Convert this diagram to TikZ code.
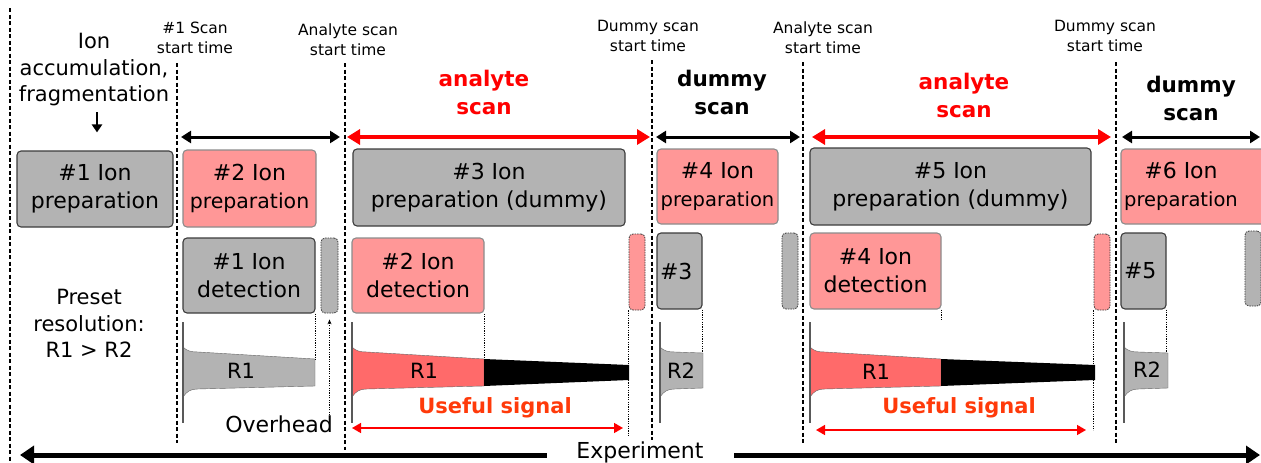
\documentclass[tikz,border=0pt]{standalone}
\usepackage{fontspec}
\setmainfont{DejaVu Sans}
\usepackage{tikz}
\usetikzlibrary{calc,arrows.meta}

\definecolor{boxgray}{RGB}{179,179,179}
\definecolor{boxpink}{RGB}{255,151,151}
\definecolor{sigred}{RGB}{255,106,106}
\definecolor{usered}{RGB}{255,58,10}
\definecolor{edgegray}{RGB}{60,60,60}

\tikzstyle{graybox}=[rectangle,rounded corners=4pt,draw=edgegray,line width=1.1pt,
                     fill=boxgray,inner sep=0pt,align=center,font=\fontsize{22}{28}\selectfont]
\tikzstyle{pinkbox}=[graybox,fill=boxpink,draw=black!45]
\tikzstyle{gapbox}=[rectangle,rounded corners=4pt,draw=edgegray,line width=0.8pt,
                    dash pattern=on 1.5pt off 1pt,inner sep=0pt,minimum width=16pt]
\tikzstyle{timeline}=[line width=2.4pt,dash pattern=on 4pt off 2.5pt]
\tikzstyle{guideline}=[line width=0.9pt,dash pattern=on 1.2pt off 1.2pt]
\tikzstyle{blackspan}=[line width=3pt,{Triangle[length=10pt,width=12pt]}-{Triangle[length=10pt,width=12pt]}]
\tikzstyle{redspan}=[line width=4.5pt,red,{Triangle[length=13pt,width=15pt]}-{Triangle[length=13pt,width=15pt]}]
\tikzstyle{usefulspan}=[line width=1.5pt,red,{Triangle[length=9pt,width=10pt]}-{Triangle[length=9pt,width=10pt]}]
\tikzstyle{marktext}=[align=center,inner sep=0pt,font=\fontsize{15.5}{20}\selectfont]
\tikzstyle{sidetext}=[align=center,inner sep=0pt,font=\fontsize{21}{26.5}\selectfont]
\tikzstyle{headtext}=[align=center,inner sep=0pt,font=\fontsize{21.5}{28}\selectfont\bfseries]
\tikzstyle{sigtext}=[inner sep=0pt,font=\fontsize{21}{26}\selectfont]
\tikzstyle{usefultext}=[inner sep=0pt,text=usered,font=\fontsize{21}{26}\selectfont\bfseries]

\newcommand\boxlabel[3][22]{#2\\{\fontsize{#1}{28}\selectfont #3}}
\newcommand\spanrow{137}
\newcommand\transient[5]{%
  \fill[#3,draw=black!60,line width=0.4pt] (#1,347) .. controls (#1+4,351) and (#1+8,352) .. (#1+15,352)
    -- (#1+#2,#4) -- (#1+#2,#5) -- (#1+15,389) .. controls (#1+8,389) and (#1+4,391) .. (#1,397) -- cycle;
  \draw[line width=2.2pt,black!65] (#1,322) -- (#1,423);}
\newcommand\blacktail[2]{\fill[black] (#1,359) -- (#2,365) -- (#2,380) -- (#1,386) -- cycle;}

\begin{document}
\begin{tikzpicture}[x=1pt,y=-1pt]
    \useasboundingbox (0,0) rectangle (1261,463);
    \clip (0,0) rectangle (1261,463);

    \coordinate (mark0) at (10,8);
    \coordinate (mark1) at (177,63);
    \coordinate (mark2) at (345,63);
    \coordinate (mark3) at (652,60);
    \coordinate (mark4) at (803,62);
    \coordinate (mark5) at (1116,62);
    \coordinate (spanY) at (0,\spanrow);
    \draw[timeline] (mark0) -- ++(0,460);
    \draw[timeline] (mark1) -- ++(0,380);
    \draw[timeline] (mark2) -- ++(0,387);
    \draw[timeline] (mark3) -- ++(0,380);
    \draw[timeline] (mark4) -- ++(0,381);
    \draw[timeline] (mark5) -- ++(0,381);

    \node[marktext] (startOne) at (195,38) {\#1 Scan\\start time};
    \node[marktext] (startAnalyteA) at (348,40) {Analyte scan\\start time};
    \node[marktext] (startDummyA) at (648,36) {Dummy scan\\start time};
    \node[marktext] (startAnalyteB) at (823,38) {Analyte scan\\start time};
    \node[marktext] (startDummyB) at (1105,36) {Dummy scan\\start time};

    \node[headtext,text=red] (analyteA) at (484,92) {analyte\\scan};
    \node[headtext] (dummyA) at (722,92) {dummy\\scan};
    \node[headtext,text=red] (analyteB) at (964,95) {analyte\\scan};
    \node[headtext] (dummyB) at (1191,98) {dummy\\scan};

    \draw[blackspan,shorten <=4pt,shorten >=5pt] (mark1 |- spanY) -- (mark2 |- spanY);
    \draw[redspan,shorten <=2pt,shorten >=2pt] (mark2 |- spanY) -- (mark3 |- spanY);
    \draw[blackspan,shorten <=4pt,shorten >=3pt] (mark3 |- spanY) -- (mark4 |- spanY);
    \draw[redspan,shorten <=9pt,shorten >=5pt] (mark4 |- spanY) -- (mark5 |- spanY);
    \draw[blackspan,shorten <=6pt,shorten >=1pt] (mark5 |- spanY) -- (current bounding box.east |- spanY);

    \node[sidetext] (accum) at (94,70) {Ion\\accumulation,\\fragmentation};
    \node[sidetext] (preset) at (89,323.5) {Preset\\resolution:\\R1 > R2};

    \node[graybox,minimum width=156pt,minimum height=76pt] (prep1) at (95,189) {\boxlabel{\#1 Ion}{preparation}};
    \node[pinkbox,minimum width=133pt,minimum height=77pt] (prep2) at (249.5,188.5) {\boxlabel[20.5]{\#2 Ion}{preparation}};
    \node[graybox,minimum width=272pt,minimum height=77pt] (prep3) at (489,187.5) {\boxlabel{\#3 Ion}{preparation (dummy)}};
    \node[pinkbox,minimum width=121pt,minimum height=75pt] (prep4) at (717.5,186.5) {\boxlabel[19.5]{\#4 Ion}{preparation}};
    \node[graybox,minimum width=281pt,minimum height=77pt] (prep5) at (950.5,186.5) {\boxlabel{\#5 Ion}{preparation (dummy)}};
    \node[pinkbox,minimum width=160pt,minimum height=75pt,
          label={[align=center,font=\fontsize{22}{28}\selectfont,xshift=-20pt]center:\boxlabel[19.5]{\#6 Ion}{preparation}}]
          (prep6) at (1201,186.5) {};

    \draw[line width=2.6pt,-{Triangle[length=8pt,width=10pt]}] ($(prep1.north)+(2,-38)$) -- ($(prep1.north)+(2,-18)$);

    \node[graybox,minimum width=132pt,minimum height=75pt] (det1) at (249,275.5) {\boxlabel{\#1 Ion}{detection}};
    \node[gapbox,fill=boxgray,minimum width=17pt,minimum height=75pt] (ovh1) at (329.5,275.5) {};
    \node[pinkbox,minimum width=132pt,minimum height=75pt] (det2) at (418,275.5) {\boxlabel{\#2 Ion}{detection}};
    \node[gapbox,fill=boxpink,minimum height=76pt] (ovh2) at (637,272) {};
    \node[graybox,minimum width=45pt,minimum height=76pt,text width=39pt,align=left,inner xsep=3pt] (det3) at (679.5,271) {\#3};
    \node[gapbox,fill=boxgray,minimum height=76pt] (ovh3) at (790,271) {};
    \node[pinkbox,minimum width=131pt,minimum height=76pt] (det4) at (875.5,271) {\boxlabel{\#4 Ion}{detection}};
    \node[gapbox,fill=boxpink,minimum height=76pt] (ovh4) at (1102,272) {};
    \node[graybox,minimum width=45pt,minimum height=76pt,text width=39pt,align=left,inner xsep=3pt] (det5) at (1143.5,271) {\#5};
    \node[gapbox,fill=boxgray,minimum height=75pt] (ovh5) at (1253,268.5) {};

    \transient{183}{132}{boxgray}{359}{386}
    \transient{352}{132}{sigred}{359}{386}
    \blacktail{484}{629}
    \transient{660}{43}{boxgray}{353}{388}
    \transient{810}{131}{sigred}{359}{386}
    \blacktail{941}{1095}
    \transient{1124}{44}{boxgray}{353}{388}

    \node[sigtext] (rOneA) at (241,371) {R1};
    \node[sigtext] (rOneB) at (424,371) {R1};
    \node[sigtext] (rTwoA) at (681,371) {R2};
    \node[sigtext] (rOneC) at (876,372) {R1};
    \node[sigtext] (rTwoB) at (1147,370) {R2};

    \draw[guideline] (det1.south east) -- ++(0,46);
    \draw[guideline] (det2.south east) -- ++(0,47);
    \draw[guideline] (ovh2.south west) -- ++(0,125);
    \draw[guideline] (det3.south east) -- ++(0,43);
    \draw[guideline] (det4.south east) -- ++(0,10);
    \draw[guideline] (ovh4.south west) -- ++(0,120);
    \draw[guideline] (det5.south east) -- ++(0,43);

    \node[sigtext,font=\fontsize{22}{26}\selectfont] (overhead) at (279,424) {Overhead};
    \draw[guideline,-{Stealth[length=5pt,width=4pt]},shorten >=6pt] (ovh1.south |- overhead.north) -- (ovh1.south);

    \node[usefultext] (usefulA) at (495,408) {Useful signal};
    \node[usefultext] (usefulB) at (959,408) {Useful signal};
    \coordinate (usefulAL) at (352,428);
    \coordinate (usefulAR) at (623,428);
    \coordinate (usefulBL) at (816,430);
    \coordinate (usefulBR) at (1086,430);
    \draw[usefulspan] (usefulAL) -- (usefulAR);
    \draw[usefulspan] (usefulBL) -- (usefulBR);

    \coordinate (expL) at (20,455);
    \coordinate (expR) at (1260,455);
    \draw[line width=5pt,{Triangle[length=14pt,width=18pt]}-{Triangle[length=14pt,width=18pt]}] (expL) --
        node[fill=white,inner ysep=1pt,yshift=3pt,minimum width=187pt,font=\fontsize{22}{26}\selectfont] (experiment) {Experiment} (expR);
\end{tikzpicture}
\end{document}
